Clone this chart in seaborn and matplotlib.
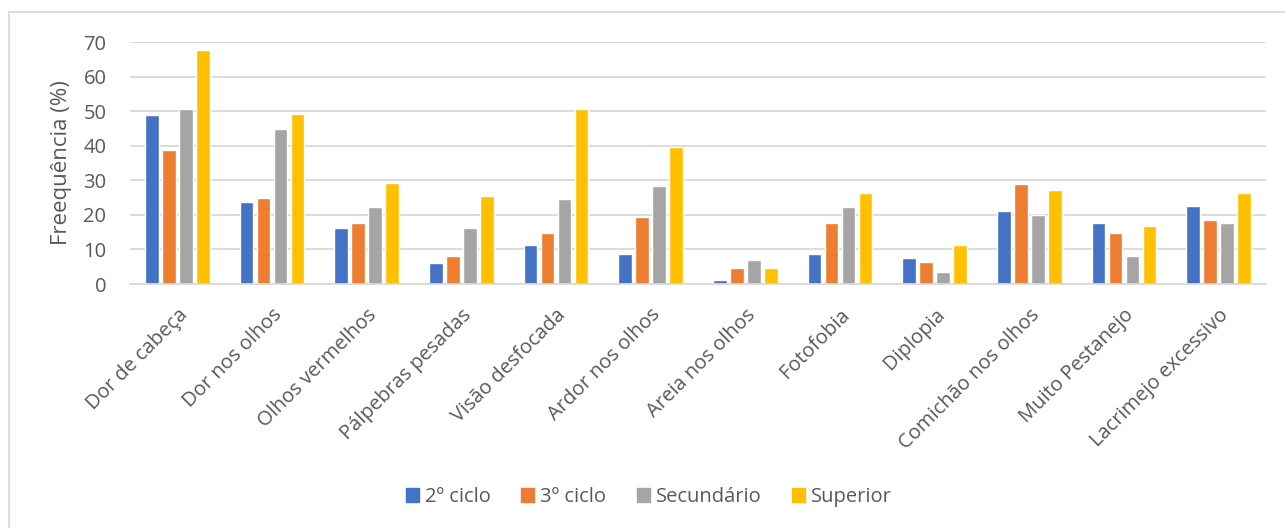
import matplotlib
matplotlib.use("Agg")
import matplotlib.pyplot as plt
import matplotlib.patches as mpatches
import seaborn as sns
import pandas as pd

categories = ["Dor de cabeça", "Dor nos olhos", "Olhos vermelhos", "Pálpebras pesadas",
              "Visão desfocada", "Ardor nos olhos", "Areia nos olhos", "Fotofobia",
              "Diplopia", "Comichão nos olhos", "Muito Pestanejo", "Lacrimejo excessivo"]
series_names = ["2º ciclo", "3º ciclo", "Secundário", "Superior"]
ciclo2 = [48.8, 23.7, 16.2, 6.2, 11.2, 8.7, 1.2, 8.7, 7.4, 21.2, 17.6, 22.5]
ciclo3 = [38.9, 25.0, 17.6, 8.2, 14.7, 19.4, 4.5, 17.6, 6.4, 28.8, 14.8, 18.4]
secundario = [50.6, 44.8, 22.3, 16.3, 24.7, 28.3, 7.0, 22.3, 3.4, 20.1, 8.2, 17.6]
superior = [67.7, 49.1, 29.2, 25.5, 50.6, 39.6, 4.6, 26.4, 11.3, 27.3, 16.9, 26.4]
colors = ["#4472C4", "#ED7D31", "#A5A5A5", "#FFC000"]

rows = []
for name, vals in zip(series_names, [ciclo2, ciclo3, secundario, superior]):
    for cat, v in zip(categories, vals):
        rows.append({"Sintoma": cat, "Nível": name, "Valor": v})
df = pd.DataFrame(rows)

sns.set_theme(style="white")
plt.rcParams["font.family"] = ["Open Sans", "DejaVu Sans"]
text_color = "#595959"

fig = plt.figure(figsize=(12.85, 5.28), dpi=100)
ax = fig.add_axes([130 / 1285, 1 - 284 / 528, (1266 - 130) / 1285, (284 - 42) / 528])

sns.barplot(data=df, x="Sintoma", y="Valor", hue="Nível", order=categories,
            hue_order=series_names, palette=colors, width=0.72, gap=0.2,
            saturation=1, ax=ax, legend=False, errorbar=None)

ax.set_ylim(0, 70)
ax.set_xlim(-0.5, len(categories) - 0.5)
ax.set_yticks(range(0, 71, 10))
ax.yaxis.grid(True, color="#D9D9D9", linewidth=1.3)
ax.set_axisbelow(True)
for s in ["top", "right", "left"]:
    ax.spines[s].set_visible(False)
ax.spines["bottom"].set_color("#D9D9D9")
ax.spines["bottom"].set_linewidth(1.3)
ax.tick_params(axis="both", length=0, colors=text_color, labelsize=14.5)
ax.tick_params(axis="y", pad=17)
ax.set_xlabel("")
ax.set_ylabel("Freequência (%)", fontsize=16, color=text_color, labelpad=8)
ax.set_xticks(range(len(categories)))
ax.set_xticklabels(categories, rotation=45, ha="right", rotation_mode="anchor")
ax.tick_params(axis="x", pad=15)

handles = [mpatches.Patch(color=c, label=n) for c, n in zip(colors, series_names)]
fig.legend(handles=handles, loc="center", bbox_to_anchor=(0.505, 1 - 497 / 528), ncol=4,
           frameon=False, fontsize=14.5, handlelength=0.65, handleheight=0.65,
           handletextpad=0.3, columnspacing=1.5, labelcolor=text_color)

# chart area border
fig.patches.append(mpatches.Rectangle((9 / 1285, -0.05), 1.1, 1 - 12 / 528 + 0.05,
                                      transform=fig.transFigure, fill=False,
                                      edgecolor="#D9D9D9", linewidth=1.3))

fig.savefig("out.png", dpi=100)
